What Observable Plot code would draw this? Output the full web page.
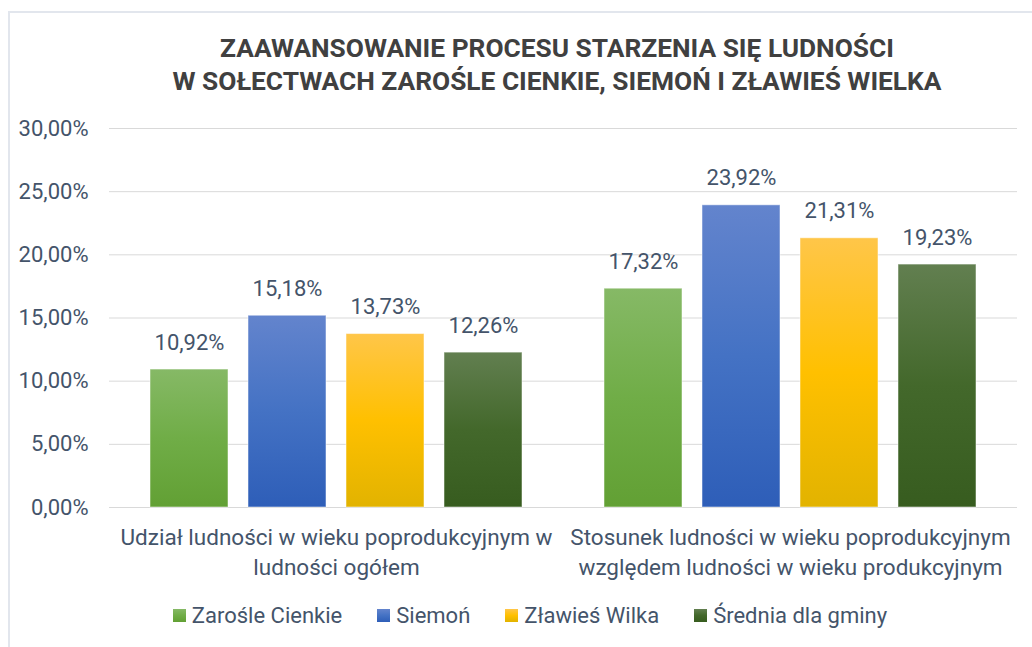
<!DOCTYPE html>
<html>
<head>
<meta charset="utf-8">
<script src="https://cdn.jsdelivr.net/npm/d3@7"></script>
<script src="https://cdn.jsdelivr.net/npm/@observablehq/plot@0.6"></script>
<style>
  body { margin: 0; background: #fff; }
  #wrap { position: relative; width: 1032px; height: 647px; overflow: hidden; background: #fff; font-family: Roboto, "Open Sans", sans-serif; }
  #frame { position: absolute; left: 8px; top: 11px; width: 1100px; height: 700px; border: 2px solid #e2e6ed; box-sizing: border-box; }
  #title { position: absolute; left: 0; top: 32px; width: 1114px; text-align: center; font-weight: 700; font-size: 26.3px; line-height: 33px; color: #404040; }
  #chart { position: absolute; left: 0; top: 100px; }
  #legend { position: absolute; left: 0; top: 603px; width: 1060px; display: flex; justify-content: center; gap: 35px; font-size: 22px; color: #44546a; }
  #legend .item { display: flex; align-items: center; gap: 6px; }
  #legend .sw { width: 13px; height: 13px; display: inline-block; }
</style>
</head>
<body>
<div id="wrap">
  <div id="frame"></div>
  <div id="title">ZAAWANSOWANIE PROCESU STARZENIA SIĘ LUDNOŚCI<br>W SOŁECTWACH ZAROŚLE CIENKIE, SIEMOŃ I ZŁAWIEŚ WIELKA</div>
  <div id="chart"></div>
  <div id="legend"></div>
</div>
<script>
const categories = [
  "Udział ludności w wieku poprodukcyjnym w ludności ogółem",
  "Stosunek ludności w wieku poprodukcyjnym względem ludności w wieku produkcyjnym"
];
const categoryLabels = [
  "Udział ludności w wieku poprodukcyjnym w\nludności ogółem",
  "Stosunek ludności w wieku poprodukcyjnym\nwzględem ludności w wieku produkcyjnym"
];
const series = ["Zarośle Cienkie", "Siemoń", "Zławieś Wilka", "Średnia dla gminy"];
const udzialValues = [10.92, 15.18, 13.73, 12.26];
const stosunekValues = [17.32, 23.92, 21.31, 19.23];
const yTicks = [0, 5, 10, 15, 20, 25, 30];
const gradientStops = [
  ["#86b966", "#70ad47", "#62a034"],
  ["#6384cd", "#4472c4", "#2e5eb8"],
  ["#ffc649", "#ffc000", "#e2b300"],
  ["#627f50", "#43682b", "#375c1f"]
];

const valuesByCategory = [udzialValues, stosunekValues];
const data = categories.flatMap((c, ci) =>
  series.map((s, si) => ({category: c, series: s, value: valuesByCategory[ci][si]}))
);
const fmt = v => v.toFixed(2).replace(".", ",") + "%";

const chart = Plot.plot({
  width: 1032,
  height: 480,
  marginLeft: 108,
  marginRight: 15,
  marginTop: 28,
  marginBottom: 73,
  style: {fontFamily: "Roboto, 'Open Sans', sans-serif", color: "#44546a", background: "transparent", overflow: "visible"},
  fx: {domain: categories, padding: 0, label: null},
  x: {domain: series, paddingInner: 0.2, paddingOuter: 0.41, axis: null},
  y: {domain: [0, 30], axis: null},
  color: {domain: series, range: series.map((s, i) => `url(#grad${i})`)},
  marks: [
    Plot.ruleY(yTicks, {y: d => d, stroke: "#d9d9d9", strokeWidth: 1}),
    Plot.barY(data, {fx: "category", x: "series", y: "value", fill: "series", stroke: "#ffffff", strokeOpacity: 0.5, strokeWidth: 1}),
    Plot.text(data, {fx: "category", x: "series", y: "value", text: d => fmt(d.value), dy: -27, fontSize: 22, fill: "#44546a"}),
    Plot.axisY({ticks: yTicks, tickFormat: fmt, tickSize: 0, tickPadding: 21, fontSize: 22, label: null}),
    Plot.axisFx({anchor: "bottom", tickSize: 0, tickPadding: 16, fontSize: 22.5, lineHeight: 1.34, label: null,
      tickFormat: d => categoryLabels[categories.indexOf(d)]})
  ]
});

const defs = d3.select(chart).insert("defs", ":first-child");
gradientStops.forEach((stops, i) => {
  const g = defs.append("linearGradient").attr("id", `grad${i}`).attr("x1", 0).attr("y1", 0).attr("x2", 0).attr("y2", 1);
  g.append("stop").attr("offset", "0%").attr("stop-color", stops[0]);
  g.append("stop").attr("offset", "50%").attr("stop-color", stops[1]);
  g.append("stop").attr("offset", "100%").attr("stop-color", stops[2]);
});
document.getElementById("chart").appendChild(chart);

const legend = d3.select("#legend");
series.forEach((s, i) => {
  const item = legend.append("div").attr("class", "item");
  item.append("span").attr("class", "sw")
    .style("background", `linear-gradient(${gradientStops[i][0]}, ${gradientStops[i][1]}, ${gradientStops[i][2]})`);
  item.append("span").text(s);
});
</script>
</body>
</html>
